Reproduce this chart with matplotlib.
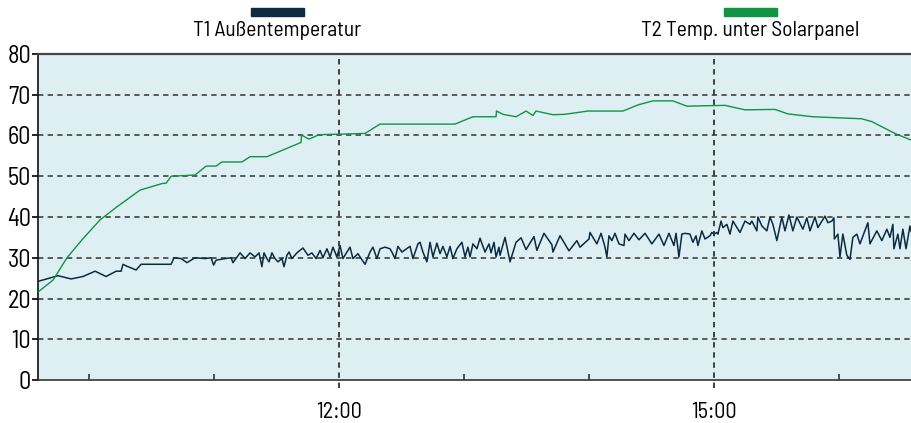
import matplotlib
matplotlib.use("Agg")
import matplotlib.pyplot as plt
from matplotlib.patches import Rectangle
from matplotlib.ticker import FixedLocator, FuncFormatter

plt.rcParams['font.family'] = ['Barlow Semi Condensed', 'Liberation Sans', 'DejaVu Sans']

# time of day in minutes since midnight, temperatures in degC
t1_min = [575.5, 585.1, 591.4, 597.1, 602.9, 608.2, 613.0, 615.4, 616.3, 617.8, 622.6, 625.0, 639.4, 640.8,
          644.2, 647.0, 650.9, 655.7, 658.6, 659.8, 661.0, 665.3, 668.2, 669.1, 672.5, 674.9, 677.3,
          679.7, 681.6, 683.0, 684.0, 685.4, 686.4, 687.8, 689.3, 690.7, 692.6, 693.6, 695.0, 696.0, 697.4,
          699.8, 702.7, 705.1, 707.0, 709.0, 710.9, 712.3, 714.2, 715.7, 717.1, 719.0, 720.5, 721.9, 723.8,
          725.3, 726.7, 729.1, 730.1, 732.5, 734.9, 736.3, 738.2, 739.7, 742.1, 744.5, 745.4, 746.9, 748.3,
          750.2, 754.1, 755.5, 757.9, 758.9, 760.3, 762.2, 763.7, 765.1, 767.0, 768.5, 769.9, 771.8, 773.3,
          774.7, 776.6, 779.0, 780.5, 781.9, 782.9, 784.3,
          786.2, 787.7, 790.1, 792.0, 793.0, 794.4, 795.4, 796.8, 797.3, 799.7, 802.1, 805.0, 807.4, 809.8,
          813.6, 815.0, 818.4, 822.2, 822.7, 826.1, 830.4, 834.2, 835.7, 840.0, 840.5, 843.8, 845.8, 847.7,
          848.6, 849.6, 851.0, 852.5, 854.4, 856.8, 857.3, 859.2, 861.6, 864.0, 866.9, 870.2, 873.6, 876.0,
          878.4, 880.8, 881.8, 883.2, 884.6, 886.1, 888.5,
          889.9, 891.4, 892.3, 894.2, 895.7, 898.1, 899.0, 900.0, 901.4, 901.9, 903.4, 904.3, 906.2, 907.7,
          909.1, 912.5, 914.9, 917.3, 918.2, 920.6, 921.1, 923.0, 925.4, 926.9, 928.3, 930.2, 932.6, 934.1,
          936.0, 937.9, 939.8, 942.7, 944.6, 946.1, 948.5, 949.9, 953.3, 954.7, 956.6, 957.6, 957.8, 959.5,
          960.5, 961.9, 963.8, 965.3, 966.7, 968.6, 970.1, 973.9, 974.9, 978.2, 980.6, 983.0, 984.5, 985.9,
          986.4, 988.3, 989.3, 990.7, 992.2, 994.1, 994.6]
t1_val = [24.2, 25.6, 24.8, 25.4, 26.7, 25.4, 26.7, 26.7, 28.4, 28.0, 27.0, 28.4, 28.4, 30.0,
          29.8, 28.8, 30.0, 29.8, 30.0, 28.2, 29.4, 29.8, 30.0, 28.8, 31.2, 29.8, 31.2,
          30.2, 31.2, 27.8, 31.2, 29.8, 29.0, 31.2, 29.8, 29.0, 29.8, 27.8, 30.6, 31.4, 29.8,
          31.2, 32.4, 30.6, 31.2, 29.8, 31.8, 30.0, 32.2, 30.2, 32.6, 30.2, 33.0, 29.8, 31.4,
          32.6, 29.8, 31.0, 30.2, 28.4, 31.4, 32.6, 29.8, 32.2, 32.6, 32.2, 31.4, 29.8, 32.8,
          31.4, 32.8, 29.8, 33.4, 33.8, 31.4, 29.0, 33.8, 30.2, 33.6, 31.0, 32.8, 30.2, 32.8,
          29.8, 32.2, 33.8, 30.2, 32.6, 30.2, 33.4,
          32.2, 34.8, 31.4, 33.4, 31.2, 33.8, 30.2, 32.6, 30.6, 35.0, 29.0, 33.8, 34.9, 32.0,
          35.2, 31.8, 36.0, 33.2, 31.4, 35.4, 31.7, 34.2, 32.6, 34.6, 36.2, 33.4, 36.0, 32.6,
          30.2, 35.4, 34.2, 36.0, 33.4, 33.0, 35.8, 34.2, 36.0, 34.4, 36.0, 33.4, 35.8, 33.0,
          36.0, 33.0, 36.0, 30.2, 35.8, 36.0, 35.8,
          33.8, 35.4, 33.0, 36.6, 34.6, 35.4, 36.2, 35.8, 36.2, 35.8, 39.0, 37.4, 38.2, 35.8,
          39.0, 36.2, 39.0, 38.2, 39.0, 36.6, 40.0, 37.8, 36.6, 40.0, 38.2, 34.2, 40.0, 36.6,
          40.5, 36.6, 40.0, 37.0, 39.8, 36.6, 40.0, 37.4, 40.2, 38.6, 39.0, 39.8, 34.6, 35.8,
          30.2, 35.8, 30.6, 29.6, 35.0, 35.8, 33.4, 38.6, 33.4, 36.6, 34.2, 37.0, 35.0, 38.2,
          32.2, 35.8, 32.2, 37.0, 32.2, 37.8, 36.5]

t2_min = [575.5, 582.7, 589.4, 596.6, 605.3, 613.4, 624.5, 635.0, 637.0, 639.4,
          650.9, 653.3, 656.2, 661.0, 663.8, 673.4, 677.3, 685.4, 701.8, 702.0,
          705.6, 710.4, 732.5, 739.7, 775.7, 784.3, 795.4, 795.6, 798.7, 805.0,
          809.8, 813.1, 814.6, 822.7, 828.5, 839.5, 856.3, 863.5, 870.7, 880.3,
          887.0, 905.3, 914.9, 929.3, 935.5, 947.5, 971.0, 975.8, 986.9, 994.6]
t2_val = [21.6, 24.5, 30.0, 34.4, 39.3, 42.5, 46.6, 48.2, 48.3, 50.0,
          50.3, 51.3, 52.5, 52.5, 53.5, 53.5, 54.8, 54.8, 58.3, 60.1,
          59.1, 60.2, 60.5, 62.8, 62.8, 64.6, 64.6, 66.0, 65.2, 64.6,
          66.0, 64.9, 66.0, 65.1, 65.2, 66.0, 66.0, 67.5, 68.5, 68.5,
          67.2, 67.4, 66.3, 66.4, 65.3, 64.6, 64.1, 63.4, 60.5, 58.9]

labels = ['T1 Außentemperatur', 'T2 Temp. unter Solarpanel']
colors = ['#0c2b40', '#109444']
hour_ticks = [10, 11, 13, 14, 16]
label_hours = [12, 15]

fig = plt.figure(figsize=(9.11, 4.23), dpi=100)
ax = fig.add_axes([38 / 911, 1 - 380 / 423, 873 / 911, 326 / 423])
ax.set_facecolor('#ddeff3')

ax.plot([m / 60 for m in t1_min], t1_val, color=colors[0], lw=1.1, zorder=3)
ax.plot([m / 60 for m in t2_min], t2_val, color=colors[1], lw=1.0, zorder=3)

ax.set_xlim(t1_min[0] / 60, t1_min[-1] / 60)
ax.set_ylim(0, 80)

# horizontal dashed grid
for y in range(10, 80, 10):
    ax.axhline(y, color='#333333', lw=1.1, dashes=(3.5, 2.8), zorder=2)
# vertical dashed lines at labelled hours, running just past the axis
for h in label_hours:
    ax.plot([h, h], [-0.025, 1], transform=ax.get_xaxis_transform(), color='#333333',
            lw=1.3, dashes=(3.0, 2.6), clip_on=False, zorder=2)

ax.xaxis.set_major_locator(FixedLocator(label_hours))
ax.xaxis.set_major_formatter(FuncFormatter(lambda v, p: '%d:00' % round(v)))
ax.xaxis.set_minor_locator(FixedLocator(hour_ticks))
ax.tick_params(axis='x', which='major', length=0, pad=16, labelsize=16)
ax.tick_params(axis='x', which='minor', direction='in', length=4, width=1.2, color='#333333')

ax.set_yticks(range(0, 81, 10))
ax.tick_params(axis='y', direction='out', length=4, width=1.2, pad=1, labelsize=17.5)

ax.spines['right'].set_visible(False)
ax.spines['left'].set_color('#111111')
ax.spines['left'].set_linewidth(1.2)
ax.spines['bottom'].set_color('#333333')
ax.spines['bottom'].set_linewidth(1.2)
ax.spines['top'].set_color('#444444')
ax.spines['top'].set_linewidth(1.6)

# legend: colour bar centred above each label
for lab, col, cx in zip(labels, colors, [277, 750]):
    fig.text(cx / 911, 1 - 30 / 423, lab, ha='center', va='center', fontsize=15.5)
    fig.patches.append(Rectangle(((cx - 26) / 911, 1 - 16 / 423), 53 / 911, 8 / 423,
                                 transform=fig.transFigure, color=col, figure=fig))

fig.savefig('out.png', dpi=100)
